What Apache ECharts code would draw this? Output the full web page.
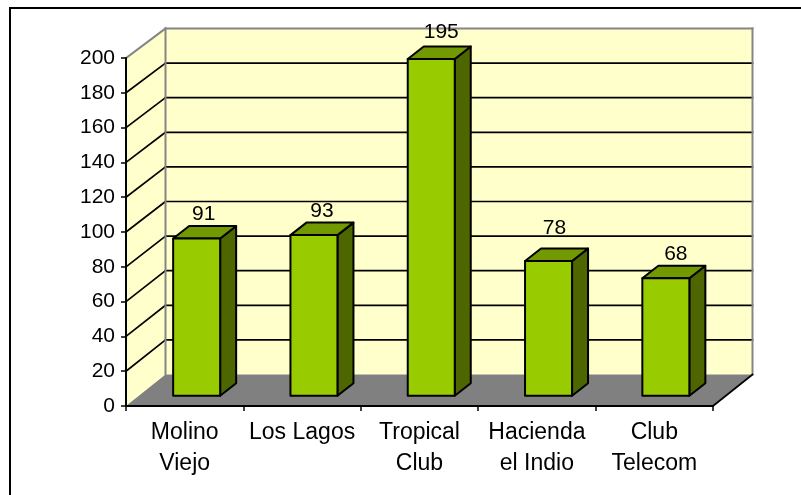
<!DOCTYPE html>
<html>
<head>
<meta charset="utf-8">
<style>html,body{margin:0;padding:0;background:#fff}#c{width:801px;height:495px}</style>
<script src="https://cdn.jsdelivr.net/npm/echarts@6/dist/echarts.min.js"></script>
</head>
<body>
<div id="c"></div>
<script>
const categories = ['Molino\nViejo', 'Los Lagos', 'Tropical\nClub', 'Hacienda\nel Indio', 'Club\nTelecom'];
const values = [91, 93, 195, 78, 68];
const axisMin = 0, axisMax = 200, axisStep = 20;

const FONT = '"Liberation Sans", Arial, sans-serif';
const WALL = '#FFFFCC', FLOOR = '#808080', EDGE = '#858585';
const FRONT = '#99CC00', SIDE = '#4D6600', TOP = '#739900';
const backDx = 39.5;
const backDy = v => -31.5 + 2 * v / axisMax;
const barDx = 16, barDy = -12.5, barW = 47;

const gridTicks = [];
for (let v = axisMin; v <= axisMax; v += axisStep) gridTicks.push(v);

function renderRoom(params, api) {
  const cs = params.coordSys;
  const L = cs.x, R = cs.x + cs.width;
  const y = v => api.coord([0, v])[1];
  const by = v => y(v) + backDy(v);
  const BL = L + backDx, BR = R + backDx;
  const kids = [];
  const poly = (pts, fill) => ({ type: 'polygon', shape: { points: pts }, style: { fill: fill } });
  const line = (x1, y1, x2, y2, color, w) => ({
    type: 'line', shape: { x1, y1, x2, y2 },
    style: { stroke: color, lineWidth: w, lineCap: 'square' }
  });
  kids.push(poly([[BL, by(axisMax)], [BR, by(axisMax)], [BR, by(axisMin)], [BL, by(axisMin)]], WALL));
  kids.push(poly([[L, y(axisMax)], [BL, by(axisMax)], [BL, by(axisMin)], [L, y(axisMin)]], WALL));
  gridTicks.forEach(v => {
    if (v === axisMin || v === axisMax) return;
    kids.push(line(L, y(v), BL, by(v), '#000', 1.7));
    kids.push(line(BL, by(v), BR, by(v), '#000', 1.7));
  });
  kids.push(poly([[L, y(axisMin)], [R, y(axisMin)], [BR, by(axisMin)], [BL, by(axisMin)]], FLOOR));
  kids.push(line(L, y(axisMax), BL, by(axisMax), EDGE, 2));
  kids.push(line(BL, by(axisMax), BR, by(axisMax), EDGE, 2));
  kids.push(line(BL, by(axisMax), BL, by(axisMin), EDGE, 2));
  kids.push(line(BR, by(axisMax), BR, by(axisMin), EDGE, 2));
  kids.push(line(R, y(axisMin), BR, by(axisMin), '#000', 1.7));
  return { type: 'group', children: kids };
}

function renderBar(params, api) {
  const p = api.coord([api.value(0), api.value(1)]);
  const b = api.coord([api.value(0), axisMin]);
  const x0 = p[0] - barW / 2, x1 = p[0] + barW / 2;
  const st = fill => ({ fill: fill, stroke: '#000', lineWidth: 2, lineJoin: 'round' });
  const labelShiftX = [-1, 0, 2, -2, 2][params.dataIndex];
  const labelShiftY = [0, 1, -2.5, -8, 0][params.dataIndex];
  return {
    type: 'group',
    children: [
      { type: 'polygon', shape: { points: [[x1, p[1]], [x1 + barDx, p[1] + barDy], [x1 + barDx, b[1] + barDy], [x1, b[1]]] }, style: st(SIDE) },
      { type: 'polygon', shape: { points: [[x0, p[1]], [x0 + barDx, p[1] + barDy], [x1 + barDx, p[1] + barDy], [x1, p[1]]] }, style: st(TOP) },
      { type: 'rect', shape: { x: x0, y: p[1], width: barW, height: b[1] - p[1] }, style: st(FRONT) },
      { type: 'text', x: p[0] + 8 + labelShiftX, y: p[1] - 24.5 + labelShiftY, style: {
          text: String(api.value(1)), fill: '#000', font: '21px ' + FONT, align: 'center', verticalAlign: 'middle' } }
    ]
  };
}

const chart = echarts.init(document.getElementById('c'), null, { renderer: 'canvas' });
chart.setOption({
  animation: false,
  backgroundColor: '#fff',
  grid: [
    { left: 126, top: 58, width: 587, height: 348 },
    { left: 138, top: 50.3, width: 586.5, height: 345.4 }
  ],
  xAxis: [
    { gridIndex: 0, type: 'category', data: categories, z: 3,
      axisLine: { show: true, lineStyle: { color: '#000', width: 2 } },
      axisTick: { show: true, length: 5, alignWithLabel: false, lineStyle: { color: '#000', width: 1.5 } },
      axisLabel: { interval: 0, color: '#000', fontFamily: FONT, fontSize: 23, lineHeight: 31, margin: 11 },
      splitLine: { show: false } },
    { gridIndex: 1, type: 'category', data: categories, show: false }
  ],
  yAxis: [
    { gridIndex: 0, type: 'value', min: axisMin, max: axisMax, interval: axisStep, z: 3,
      axisLine: { show: true, lineStyle: { color: '#000', width: 2 } },
      axisTick: { show: true, length: 5, lineStyle: { color: '#000', width: 1.5 } },
      axisLabel: { color: '#000', fontFamily: FONT, fontSize: 21, margin: 11, padding: [4, 0, 0, 0] },
      splitLine: { show: false } },
    { gridIndex: 1, type: 'value', min: axisMin, max: axisMax, interval: axisStep, show: false }
  ],
  graphic: [
    { type: 'polyline', z: 10, shape: { points: [[10, 495], [10, 8], [801, 8]] }, style: { stroke: '#000', lineWidth: 2, fill: null } }
  ],
  series: [
    { type: 'custom', xAxisIndex: 0, yAxisIndex: 0, z: 1, silent: true, clip: false, renderItem: renderRoom, data: [[0, 0]] },
    { type: 'custom', xAxisIndex: 1, yAxisIndex: 1, z: 4, silent: true, clip: false, renderItem: renderBar,
      encode: { x: 0, y: 1 }, data: values.map((v, i) => [i, v]) }
  ]
});
</script>
</body>
</html>
